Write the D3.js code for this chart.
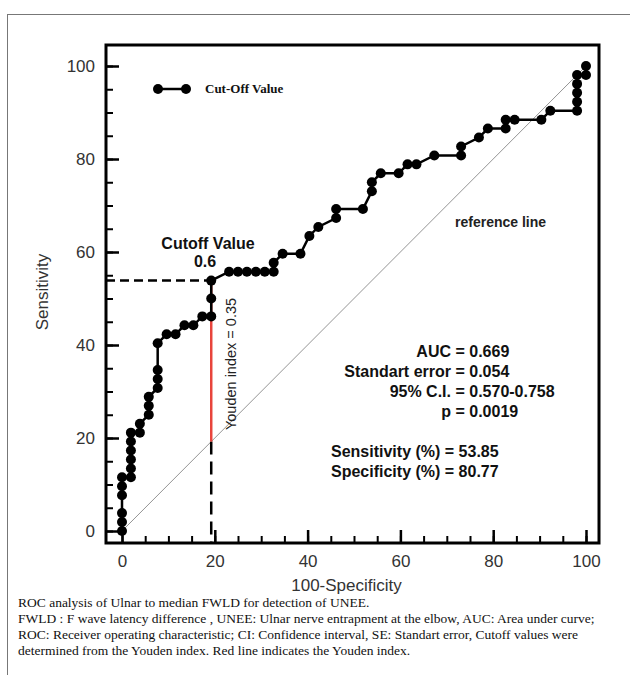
<!DOCTYPE html>
<html>
<head>
<meta charset="utf-8">
<script src="https://cdn.jsdelivr.net/npm/d3@7/dist/d3.min.js"></script>
<style>
  body { margin: 0; background: #fff; }
  svg { display: block; }
</style>
</head>
<body>
<div id="chart-container"></div>
<script>
// ROC curve points (100-Specificity, Sensitivity)
const fpr = [0, 0, 0, 0, 0, 0, 1.92, 1.92, 1.92, 1.92, 1.92, 1.92, 3.85, 3.85, 5.77, 5.77, 5.77,
  7.69, 7.69, 7.69, 7.69, 9.62, 11.54, 13.46, 15.38, 17.31, 19.23, 19.23, 19.23,
  23.08, 25, 26.92, 28.85, 30.77, 32.69, 32.69, 34.62, 38.46, 40.38, 42.31, 46.15, 46.15,
  51.92, 53.85, 53.85, 55.77, 59.62, 61.54, 63.46, 67.31, 73.08, 73.08, 76.92, 78.85,
  82.69, 82.69, 84.62, 90.38, 92.31, 98.08, 98.08, 98.08, 98.08, 98.08, 100, 100];
const tpr = [0, 1.92, 3.85, 7.69, 9.62, 11.54, 11.54, 13.46, 15.38, 17.31, 19.23, 21.15, 21.15, 23.08, 25, 26.92, 28.85,
  30.77, 32.69, 34.62, 40.38, 42.31, 42.31, 44.23, 44.23, 46.15, 46.15, 50, 53.85,
  55.77, 55.77, 55.77, 55.77, 55.77, 55.77, 57.69, 59.62, 59.62, 63.46, 65.38, 67.31, 69.23,
  69.23, 73.08, 75, 76.92, 76.92, 78.85, 78.85, 80.77, 80.77, 82.69, 84.62, 86.54,
  86.54, 88.46, 88.46, 88.46, 90.38, 90.38, 92.31, 94.23, 96.15, 98.08, 98.08, 100];

const majorTicks = [0, 20, 40, 60, 80, 100];
const minorTicks = d3.range(0, 101, 5);

const cutoff = {fpr: 19.23, tpr: 53.85};
const statLabels = ["AUC", "Standart error", "95% C.I.", "p"];
const statValues = ["0.669", "0.054", "0.570-0.758", "0.0019"];
const perfLines = ["Sensitivity (%) = 53.85", "Specificity (%) = 80.77"];

const caption = [
  "ROC analysis of Ulnar to median FWLD for detection of UNEE.",
  "FWLD : F wave latency difference , UNEE: Ulnar nerve entrapment at the elbow, AUC: Area under curve;",
  "ROC: Receiver operating characteristic; CI: Confidence interval, SE: Standart error, Cutoff values were",
  "determined from the Youden index. Red line indicates the Youden index."
];

const W = 630, H = 675;
const frame = {left: 106, right: 599, top: 45, bottom: 543};

const svg = d3.select("#chart-container")
  .append("svg")
    .attr("width", W)
    .attr("height", H);

// outer panel border
svg.append("rect")
  .attr("x", 7.5).attr("y", 14.5)
  .attr("width", 700).attr("height", 700)
  .attr("fill", "none")
  .attr("stroke", "#777")
  .attr("stroke-width", 1);

const x = d3.scaleLinear().domain([0, 100]).range([122, 586]);
const y = d3.scaleLinear().domain([0, 100]).range([531, 66]);

const data = fpr.map((d, i) => ({x: d, y: tpr[i]}));

// axes with inward ticks
const font = "Arial, 'Liberation Sans', sans-serif";

svg.append("g")
  .attr("transform", "translate(" + frame.left + ",0)")
  .call(d3.axisLeft(y).tickValues(minorTicks).tickSizeInner(-7).tickSizeOuter(0).tickFormat(""))
  .call(g => g.select(".domain").remove())
  .call(g => g.selectAll("line").attr("stroke", "#000").attr("stroke-width", 2));

svg.append("g")
  .attr("transform", "translate(" + frame.left + ",0)")
  .call(d3.axisLeft(y).tickValues(majorTicks).tickSizeInner(-13).tickSizeOuter(0).tickPadding(11))
  .call(g => g.select(".domain").remove())
  .call(g => g.selectAll("line").attr("stroke", "#000").attr("stroke-width", 2.5))
  .call(g => g.selectAll("text").attr("font-family", font).attr("font-size", 17).attr("fill", "#333"));

svg.append("g")
  .attr("transform", "translate(0," + frame.bottom + ")")
  .call(d3.axisBottom(x).tickValues(minorTicks).tickSizeInner(-7).tickSizeOuter(0).tickFormat(""))
  .call(g => g.select(".domain").remove())
  .call(g => g.selectAll("line").attr("stroke", "#000").attr("stroke-width", 2));

svg.append("g")
  .attr("transform", "translate(0," + frame.bottom + ")")
  .call(d3.axisBottom(x).tickValues(majorTicks).tickSizeInner(-13).tickSizeOuter(0).tickPadding(12))
  .call(g => g.select(".domain").remove())
  .call(g => g.selectAll("line").attr("stroke", "#000").attr("stroke-width", 2.5))
  .call(g => g.selectAll("text").attr("font-family", font).attr("font-size", 17).attr("fill", "#333"));

// plot frame
svg.append("rect")
  .attr("x", frame.left).attr("y", frame.top)
  .attr("width", frame.right - frame.left)
  .attr("height", frame.bottom - frame.top)
  .attr("fill", "none")
  .attr("stroke", "#000")
  .attr("stroke-width", 3);

// axis titles
svg.append("text")
  .attr("x", (frame.left + frame.right) / 2 - 6)
  .attr("y", 591)
  .attr("text-anchor", "middle")
  .attr("font-family", font).attr("font-size", 17).attr("fill", "#333")
  .text("100-Specificity");

svg.append("text")
  .attr("transform", "translate(48,292) rotate(-90)")
  .attr("text-anchor", "middle")
  .attr("font-family", font).attr("font-size", 17).attr("fill", "#333")
  .text("Sensitivity");

// reference line
svg.append("line")
  .attr("x1", x(0)).attr("y1", y(0))
  .attr("x2", x(100)).attr("y2", y(100))
  .attr("stroke", "#888")
  .attr("stroke-width", 0.9);

// cutoff dashed guides
svg.append("line")
  .attr("x1", frame.left).attr("y1", y(cutoff.tpr))
  .attr("x2", x(cutoff.fpr)).attr("y2", y(cutoff.tpr))
  .attr("stroke", "#000").attr("stroke-width", 2.5)
  .attr("stroke-dasharray", "9,5");

svg.append("line")
  .attr("x1", x(cutoff.fpr)).attr("y1", y(cutoff.fpr))
  .attr("x2", x(cutoff.fpr)).attr("y2", frame.bottom)
  .attr("stroke", "#000").attr("stroke-width", 2.5)
  .attr("stroke-dasharray", "13,7");

// Youden index (red)
svg.append("line")
  .attr("x1", x(cutoff.fpr)).attr("y1", y(cutoff.fpr))
  .attr("x2", x(cutoff.fpr)).attr("y2", y(cutoff.tpr))
  .attr("stroke", "#e8443c").attr("stroke-width", 2.5);

svg.append("text")
  .attr("transform", "translate(236,364) rotate(-90)")
  .attr("text-anchor", "middle")
  .attr("font-family", font).attr("font-size", 14.5).attr("fill", "#222")
  .text("Youden index = 0.35");

// ROC curve
const line = d3.line().x(d => x(d.x)).y(d => y(d.y));
svg.append("path")
  .datum(data)
  .attr("d", line)
  .attr("fill", "none")
  .attr("stroke", "#000")
  .attr("stroke-width", 2.5);

svg.selectAll("circle.pt")
  .data(data)
  .enter()
  .append("circle")
    .attr("class", "pt")
    .attr("cx", d => x(d.x))
    .attr("cy", d => y(d.y))
    .attr("r", 5)
    .attr("fill", "#000");

// cutoff label
svg.append("text")
  .attr("x", 208).attr("y", 249)
  .attr("text-anchor", "middle")
  .attr("font-family", font).attr("font-size", 16).attr("font-weight", "bold").attr("fill", "#111")
  .text("Cutoff Value");
svg.append("text")
  .attr("x", 205).attr("y", 267)
  .attr("text-anchor", "middle")
  .attr("font-family", font).attr("font-size", 16).attr("font-weight", "bold").attr("fill", "#111")
  .text("0.6");

// legend
const legend = svg.append("g");
legend.append("line")
  .attr("x1", 158).attr("y1", 89).attr("x2", 186).attr("y2", 89)
  .attr("stroke", "#000").attr("stroke-width", 2.5);
legend.selectAll("circle")
  .data([158, 186])
  .enter().append("circle")
    .attr("cx", d => d).attr("cy", 89).attr("r", 5).attr("fill", "#000");
legend.append("text")
  .attr("x", 205).attr("y", 93)
  .attr("font-family", "'Liberation Serif', 'Times New Roman', serif")
  .attr("font-size", 13).attr("font-weight", "bold").attr("fill", "#111")
  .text("Cut-Off Value");

// reference line label
svg.append("text")
  .attr("x", 455).attr("y", 227)
  .attr("font-family", font).attr("font-size", 14).attr("font-weight", "bold").attr("fill", "#222")
  .text("reference line");

// statistics block, aligned on "="
const stats = svg.append("g")
  .attr("font-family", font).attr("font-size", 16).attr("font-weight", "bold").attr("fill", "#111");
statLabels.forEach((lab, i) => {
  const yy = 357 + i * 20;
  stats.append("text")
    .attr("x", 451).attr("y", yy)
    .attr("text-anchor", "end")
    .text(lab);
  stats.append("text")
    .attr("x", 451).attr("y", yy)
    .attr("text-anchor", "start")
    .attr("xml:space", "preserve")
    .text(" = " + statValues[i]);
});
perfLines.forEach((t, i) => {
  stats.append("text")
    .attr("x", 331).attr("y", 457 + i * 20)
    .text(t);
});

// caption
svg.append("g")
  .selectAll("text")
  .data(caption)
  .enter().append("text")
    .attr("x", 18)
    .attr("y", (d, i) => 607 + i * 16)
    .attr("font-family", "'Liberation Serif', 'Times New Roman', serif")
    .attr("font-size", 13.5)
    .attr("fill", "#111")
    .text(d => d);
</script>
</body>
</html>
